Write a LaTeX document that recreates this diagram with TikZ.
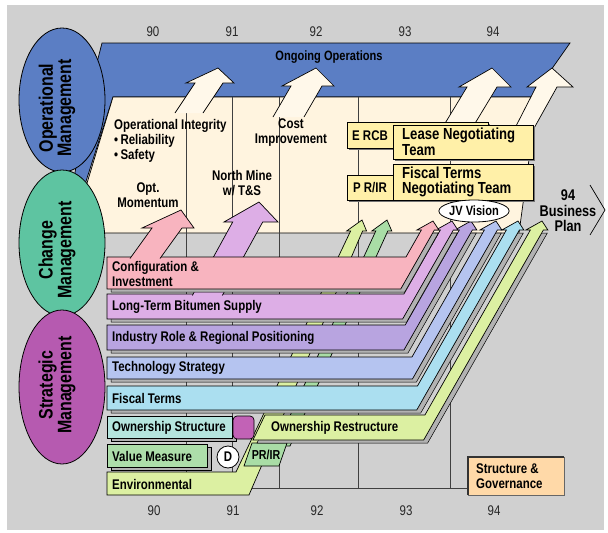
\documentclass[tikz,border=0pt]{standalone}
\usepackage{fontspec}
\setmainfont{Liberation Sans}[FakeStretch=0.82]
\usetikzlibrary{shapes.geometric}
\definecolor{BG}{HTML}{D0D0D0}
\definecolor{OPBLUE}{HTML}{5B7EC4}
\definecolor{CHGREEN}{HTML}{5EC4A1}
\definecolor{STMAG}{HTML}{B65AB0}
\definecolor{CREAM}{HTML}{FFF4DF}
\definecolor{ARROWW}{HTML}{FFF8EA}
\definecolor{TEAMY}{HTML}{FFF0A8}
\definecolor{PINK}{HTML}{F8B4BF}
\definecolor{LAV}{HTML}{DDAEE6}
\definecolor{VIOL}{HTML}{B8A4E0}
\definecolor{TECH}{HTML}{B5C4F0}
\definecolor{FISC}{HTML}{ABDFF0}
\definecolor{OWNS}{HTML}{B5E5DE}
\definecolor{VALM}{HTML}{ADDEAA}
\definecolor{ENV}{HTML}{DCF0A2}
\definecolor{PRIR}{HTML}{A9DDA6}
\definecolor{MAGSQ}{HTML}{C262B6}
\definecolor{STRG}{HTML}{FFD9A8}
\definecolor{SHAD}{HTML}{B2B2B2}
\newcommand\fsz[2]{\fontsize{#1}{#2}\selectfont}
% colour, top y, bottom y, tip x, top-left x, bottom-left x
\newcommand\bentbar[6]{%
 \pgfmathsetmacro\brb{#4+6.5-(#3-221)*0.57}%
 \pgfmathsetmacro\bat{#4+6.5-(#2-221)*0.57-13}%
 \pgfmathsetmacro\brh{#4+6.5-9*0.57}%
 \pgfmathsetmacro\blh{\brh-13}%
 \filldraw[shd] (#5+4,#2+3) -- (\bat+4,#2+3) -- (\blh+4,233) -- (\brh+4,233) -- (\brb+4,#3+3) -- (#6+4,#3+3) -- cycle;
 \filldraw[bar,fill=#1] (#5,#2) -- (\bat,#2) -- (\blh,230) -- (\blh-4.5,230) -- (#4,221) -- (\brh+4.5,230) -- (\brh,230) -- (\brb,#3) -- (#6,#3) -- cycle;}
\newcommand\warrow[2]{\fill[#1] #2 -- cycle; \draw[warr] #2;}

\begin{document}
\begin{tikzpicture}[x=1pt,y=-1pt]
\tikzset{bar/.style={draw=black,line width=0.7pt},shd/.style={draw=black,line width=0.5pt,fill=SHAD},
 gridl/.style={black!75,line width=0.6pt},warr/.style={draw=black,line width=0.7pt},
 box/.style={draw=black,line width=0.7pt,fill=TEAMY},
 barlbl/.style={anchor=west,inner sep=0pt,align=left,font=\bfseries\fsz{14}{15}},
 crlbl/.style={inner sep=0pt,align=center,font=\bfseries\fsz{14}{15}},
 teamlbl/.style={anchor=west,inner sep=0pt,align=left,font=\bfseries\fsz{16}{15.5}},
 boxlbl/.style={inner sep=0pt,font=\bfseries\fsz{14}{15}},
 yrlbl/.style={inner sep=0pt,text=black!85,font=\fsz{14}{14}},
 ell/.style={draw=black,line width=0.8pt},
 elllbl/.style={rotate=90,inner sep=0pt,align=center,font=\bfseries\fsz{19.5}{15.5}}}
\useasboundingbox (0,0) rectangle (608,533);
\fill[white] (0,0) rectangle (608,533);
\fill[BG] (7,5) rectangle (604,530);
% operations panels
\filldraw[bar,fill=OPBLUE] (102,43) -- (570,43) -- (532,97) -- (113,97) -- (80,200) -- (70,200) -- (90,90) -- cycle;
\filldraw[bar,fill=CREAM] (113,97) -- (532,97) -- (533,130) -- (519,233) -- (72,233) -- cycle;
\node[inner sep=0pt,font=\bfseries\fsz{13.5}{14}] (ongoing) at (329,57) {Ongoing Operations};
\foreach \gx in {186,232,279,358,450} \draw[gridl] (\gx,97) -- (\gx,488);
\draw[gridl] (247,488) -- (467,488);
\warrow{ARROWW}{(175,113) -- (195,83) -- (186,83) -- (218,68) -- (234,83) -- (223,83) -- (203,113)}
\warrow{ARROWW}{(273,117) -- (291,86) -- (282,86) -- (316,68) -- (334,86) -- (322,86) -- (304,117)}
\warrow{ARROWW}{(441,130) -- (467,87) -- (459,87) -- (492,68) -- (511,87) -- (497,87) -- (471,130)}
\warrow{ARROWW}{(514,130) -- (536,87) -- (527,87) -- (552,68) -- (573,87) -- (557,87) -- (533,130)}
% negotiating teams
\fill[black!55] (349,124) rectangle (490,150);
\filldraw[box] (347,122) rectangle (488,148);
\node[boxlbl] (ercb) at (370,136) {E RCB};
\fill[black!55] (395,127) rectangle (535,161);
\filldraw[box] (393,125) rectangle (533,159);
\node[teamlbl] (lease) at (402,142) {Lease Negotiating\\Team};
\fill[black!55] (349,177) rectangle (490,202);
\filldraw[box] (347,175) rectangle (488,200);
\node[boxlbl] (prir1) at (370,188) {P R/IR};
\fill[black!55] (395,166) rectangle (535,202);
\filldraw[box] (393,164) rectangle (533,200);
\node[teamlbl] (fiscteam) at (402,182) {Fiscal Terms\\Negotiating Team};
\node[crlbl,anchor=north west,align=left] (opint) at (114,119) {Operational Integrity\\\textbullet\,Reliability\\\textbullet\,Safety};
\node[crlbl] (cost) at (291,133) {Cost\\Improvement};
\node[crlbl] (nmine) at (242,183) {North Mine\\w/ T\&S};
\node[crlbl] (optm) at (148,195) {Opt.\\Momentum};
% thin arrows behind the bars
\filldraw[bar,fill=ENV] (107,472) -- (236,472) -- (350.6,231) -- (346.6,231) -- (362,220) -- (366.6,231) -- (362.6,231) -- (249,495) -- (107,495) -- cycle;
\filldraw[bar,fill=PRIR] (276,446) -- (375.8,231) -- (371.8,231) -- (387,220) -- (391.8,231) -- (387.8,231) -- (290,446) -- cycle;
\filldraw[bar,fill=PRIR] (252,443) -- (287,443) -- (279,466) -- (244,466) -- cycle;
\node[inner sep=0pt,font=\bfseries\fsz{13}{14}] (prir2) at (266,455) {PR/IR};
% strategic bars
\bentbar{ENV}{415}{440}{542}{265}{253}
\bentbar{FISC}{386}{410}{518}{107}{107}
\bentbar{TECH}{357}{379}{496}{107}{107}
\bentbar{VIOL}{325}{350}{471}{107}{107}
\bentbar{LAV}{294}{319}{452}{107}{107}
\warrow{LAV}{(192.3,295.5) -- (232.7,222) -- (224,222) -- (259,202) -- (278,222) -- (262.7,222) -- (222.3,295.5)}
\bentbar{PINK}{257}{289}{433}{107}{107}
\warrow{PINK}{(130,258.5) -- (152,228) -- (142,228) -- (181,210) -- (194,228) -- (182,228) -- (160,258.5)}
\filldraw[shd] (111,419) rectangle (236,441);
\filldraw[bar,fill=OWNS] (107,416) rectangle (232,438);
\filldraw[bar,fill=MAGSQ,rounded corners=4pt] (233,416) rectangle (254,439);
\filldraw[shd] (111,447) rectangle (211,470);
\filldraw[bar,fill=VALM] (107,444) rectangle (207,467);
\node[circle,draw,fill=white,line width=0.8pt,minimum size=22pt,inner sep=0pt,font=\bfseries\fsz{14}{14}] (dmark) at (228,457) {D};
\node[barlbl] (conf) at (112,274) {Configuration \&\\Investment};
\node[barlbl] (bitu) at (112,307) {Long-Term Bitumen Supply};
\node[barlbl] (indus) at (112,338) {Industry Role \& Regional Positioning};
\node[barlbl] (tech) at (112,368) {Technology Strategy};
\node[barlbl] (fisc) at (112,398) {Fiscal Terms};
\node[barlbl] (owns) at (112,428) {Ownership Structure};
\node[barlbl] (valm) at (112,456) {Value Measure};
\node[barlbl] (envi) at (112,484) {Environmental};
\node[barlbl] (ownr) at (271,428) {Ownership Restructure};
% vision and plan
\node[ellipse,draw,line width=0.8pt,fill=white,minimum width=66pt,minimum height=22pt,inner sep=0pt,font=\bfseries\fsz{13.5}{14}] (jv) at (474,211) {JV Vision};
\node[inner sep=0pt,align=center,font=\bfseries\fsz{15.5}{15.5}] (plan) at (568,211) {94\\Business\\Plan};
\draw[line width=0.7pt] (590,185) -- (605,210) -- (590,235);
\foreach \yx/\yl in {153/90,232/91,316/92,405/93,493/94}{
 \node[yrlbl] (top\yl) at (\yx,32) {\yl};
 \node[yrlbl] (bot\yl) at (\yx+1,511) {\yl};}
\filldraw[draw=black!60,line width=0.6pt,fill=STRG] (468,457) rectangle (564,495);
\draw[black!80,line width=1.4pt] (468,495) -- (468,457) -- (564,457);
\node[barlbl] (strgov) at (476,476) {Structure \&\\Governance};
% management ellipses
\filldraw[ell,fill=OPBLUE] (62,100) ellipse [x radius=43pt,y radius=72pt];
\node[elllbl] (opm) at (57,108) {Operational\\Management};
\filldraw[ell,fill=CHGREEN] (62,243) ellipse [x radius=43pt,y radius=73pt];
\node[elllbl] (chm) at (57,250) {Change\\Management};
\filldraw[ell,fill=STMAG] (62,387) ellipse [x radius=43pt,y radius=77pt];
\node[elllbl] (stm) at (57,385) {Strategic\\Management};
\end{tikzpicture}
\end{document}
